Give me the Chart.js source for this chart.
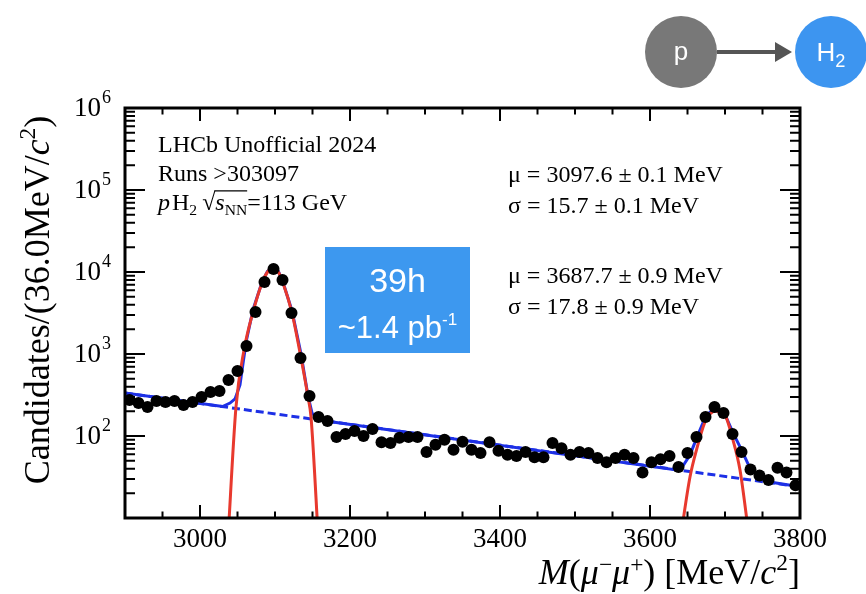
<!DOCTYPE html>
<html><head><meta charset="utf-8">
<script src="https://cdn.jsdelivr.net/npm/chart.js@4"></script>
<style>html,body{margin:0;padding:0;background:#fff;}canvas{display:block}</style>
</head><body>
<canvas id="c" width="866" height="594"></canvas>
<script>
// ---- data ----
const binMass = [2906,2918,2930,2942,2954,2966,2978,2990,3002,3014,3026,3038,3050,3062,3074,3086,3098,3110,3122,3134,3146,3158,3170,3182,3194,3206,3218,3230,3242,3254,3266,3278,3290,3302,3314,3326,3338,3350,3362,3374,3386,3398,3410,3422,3434,3446,3458,3470,3482,3494,3506,3518,3530,3542,3554,3566,3578,3590,3602,3614,3626,3638,3650,3662,3674,3686,3698,3710,3722,3734,3746,3758,3770,3782,3794];
const candidates = [275,252,226,267,260,267,239,260,299,344,354,482,621,1253,3250,7550,10900,7980,3160,893,308,171,152,97,106,115,100,122,84,82,95,97,97,64,78,90,68,85,68,62,84,66,59,57,64,55,55,82,71,59,64,62,54,48,54,59,54,36,48,52,57,42,62,97,171,226,191,106,64,39,33,29,41,36,25];

const jpsiFitMass = [3037,3048,3058.7,3070.7,3082.7,3090,3097.3,3104.5,3110.7,3122.7,3134.7,3144,3148,3158];
const jpsiFitVals = [5,226,1119,3250,7340,10000,11200,10000,7340,3160,893,299,171,5];
const psi2sFitMass = [3641,3653.3,3662.7,3673.3,3680,3686.7,3693,3700,3710.7,3720,3732];
const psi2sFitVals = [6,31.6,71.5,148,185,202,196,180,89,38.5,6];
const totalFitMass = [2900,3030,3040,3046.7,3053.3,3058,3062,3070.7,3082.7,3090,3097.3,3104.5,3110.7,3122.7,3134.7,3144,3149.3,3156,3177,3640,3653.3,3662.7,3673.3,3680,3686.7,3693,3700,3710.7,3722.7,3733.3,3746.7,3764,3800];
const totalFitVals = [334,229,252,283,419,845,1483,3470,7540,10200,11200,10200,7500,3350,1000,308,191,166,148,38,58.7,97,166,196,205,199,183,109,66,40.7,30.8,27.1,24];
const bkgMass = [2900,3800];
const bkgVals = [334,24];

const xTickLabels = [3000,3200,3400,3600,3800];
const yTickExponents = [2,3,4,5,6];

// ---- drawing helpers ----
const SERIF = '"Liberation Serif","Times New Roman",serif';
const SANS = '"Liberation Sans",Arial,sans-serif';
function fontFor(p, size, fam){
  const s = (p.sup||p.sub) ? size*(p.scale||0.65) : size;
  return (p.it?'italic ':'') + s.toFixed(1) + 'px ' + fam;
}
function richWidth(ctx, parts, size, fam){
  let w=0;
  for(const p of parts){ctx.font=fontFor(p,size,fam); w+=ctx.measureText(p.t).width+(p.dx||0);}
  return w;
}
function drawRich(ctx, x, y, parts, size, fam, align){
  ctx.save();
  ctx.textAlign='left';
  const w = richWidth(ctx, parts, size, fam);
  let cx = align==='right'? x-w : align==='center'? x-w/2 : x;
  let overStart=null;
  for(const p of parts){
    ctx.font=fontFor(p,size,fam);
    const dy = p.sup ? -size*(p.raise||0.38) : p.sub ? size*0.22 : 0;
    if(p.overStart) overStart=cx;
    ctx.fillText(p.t, cx, y+dy);
    const pw=ctx.measureText(p.t).width;
    cx += pw + (p.dx||0);
    if(p.overEnd && overStart!==null){
      ctx.lineWidth=1.3; ctx.strokeStyle=ctx.fillStyle;
      ctx.beginPath(); ctx.moveTo(overStart-1, y-size*0.80); ctx.lineTo(cx, y-size*0.80); ctx.stroke();
    }
  }
  ctx.restore();
}

const framePlugin = {
  id:'rootFrame',
  afterDraw(chart){
    const ctx=chart.ctx, a=chart.chartArea, xs=chart.scales.x, ys=chart.scales.y;
    ctx.save();
    ctx.fillStyle='#000'; ctx.strokeStyle='#000';
    // ticks
    ctx.lineWidth=2;
    ctx.beginPath();
    for(let m=2900;m<=3800;m+=50){
      const px=xs.getPixelForValue(m);
      const L=(m%200===0)?13:6.5;
      ctx.moveTo(px,a.bottom); ctx.lineTo(px,a.bottom-L);
      ctx.moveTo(px,a.top); ctx.lineTo(px,a.top+L);
    }
    for(let e=1;e<=5;e++){
      for(let d=1;d<=10;d++){
        const v=d*Math.pow(10,e);
        const py=ys.getPixelForValue(v);
        const L=(d===1||d===10)?20:10;
        ctx.moveTo(a.left,py); ctx.lineTo(a.left+L,py);
        ctx.moveTo(a.right,py); ctx.lineTo(a.right-L,py);
      }
    }
    ctx.stroke();
    // frame
    ctx.lineWidth=3;
    ctx.strokeRect(a.left,a.top,a.right-a.left,a.bottom-a.top);
    // x tick labels
    ctx.font='27px '+SERIF; ctx.textAlign='center'; ctx.textBaseline='alphabetic';
    for(const t of xTickLabels){ ctx.fillText(String(t), xs.getPixelForValue(t), 547); }
    // y tick labels
    for(const e of yTickExponents){
      const py=ys.getPixelForValue(Math.pow(10,e));
      ctx.font='27px '+SERIF; ctx.textAlign='right';
      ctx.fillText('10', 101, py+8);
      ctx.font='18px '+SERIF; ctx.textAlign='left';
      ctx.fillText(String(e), 102, py-5);
    }
    // axis titles
    ctx.textAlign='left';
    drawRich(ctx, 800, 584, [{t:'M',it:true},{t:'('},{t:'μ',it:true},{t:'−',sup:true,raise:0.33},{t:'μ',it:true},{t:'+',sup:true,raise:0.33},{t:') [MeV/'},{t:'c',it:true},{t:'2',sup:true},{t:']'}], 36, SERIF, 'right');
    ctx.save(); ctx.translate(49,300); ctx.rotate(-Math.PI/2);
    drawRich(ctx, 0, 0, [{t:'Candidates/(36.0MeV/'},{t:'c',it:true},{t:'2',sup:true},{t:')'}], 36, SERIF, 'center');
    ctx.restore();
    // annotations
    ctx.font='24px '+SERIF; ctx.textAlign='left';
    ctx.fillText('LHCb Unofficial 2024', 158, 152);
    ctx.fillText('Runs >303097', 158, 181);
    drawRich(ctx, 158, 210, [{t:'p',it:true,dx:2},{t:'H'},{t:'2',sub:true,dx:5},{t:'√'},{t:'s',it:true,overStart:true},{t:'NN',sub:true,overEnd:true},{t:'=113 GeV'}], 24, SERIF, 'left');
    ctx.font='24px '+SERIF;
    ctx.fillText('μ = 3097.6 ± 0.1 MeV', 508, 182);
    ctx.fillText('σ = 15.7 ± 0.1 MeV', 508, 213);
    ctx.fillText('μ = 3687.7 ± 0.9 MeV', 508, 283);
    ctx.fillText('σ = 17.8 ± 0.9 MeV', 508, 314);
    // luminosity box
    ctx.fillStyle='#3d98ef';
    ctx.fillRect(325,247,145,106);
    ctx.fillStyle='#fff'; ctx.textAlign='center';
    ctx.font='34px '+SANS;
    ctx.fillText('39h', 397.5, 292);
    drawRich(ctx, 397.5, 338, [{t:'~1.4 pb'},{t:'-1',sup:true,scale:0.55,raise:0.42}], 31, SANS, 'center');
    // p -> H2 icon
    ctx.fillStyle='#787878';
    ctx.beginPath(); ctx.arc(681,52,36,0,Math.PI*2); ctx.fill();
    ctx.fillStyle='#3d95f0';
    ctx.beginPath(); ctx.arc(831,52,36,0,Math.PI*2); ctx.fill();
    ctx.strokeStyle='#555'; ctx.lineWidth=4;
    ctx.beginPath(); ctx.moveTo(717,52); ctx.lineTo(778,52); ctx.stroke();
    ctx.fillStyle='#555';
    ctx.beginPath(); ctx.moveTo(792,52); ctx.lineTo(775,42); ctx.lineTo(775,62); ctx.closePath(); ctx.fill();
    ctx.fillStyle='#fff'; ctx.textAlign='center';
    ctx.font='26px '+SANS;
    ctx.fillText('p', 681, 60);
    drawRich(ctx, 831, 61, [{t:'H'},{t:'2',sub:true,scale:0.7}], 26, SANS, 'center');
    ctx.restore();
  }
};

const RED='#e8392e', BLUE='#1d30e6';
const pts=(xs,ys)=>xs.map((x,i)=>({x:x,y:ys[i]}));
new Chart(document.getElementById('c').getContext('2d'),{
  type:'scatter',
  data:{datasets:[
    {label:'Data', data:pts(binMass,candidates), pointRadius:6, pointBackgroundColor:'#000', pointBorderColor:'#000', pointBorderWidth:0, showLine:false},
    {label:'J/psi', data:pts(jpsiFitMass,jpsiFitVals), showLine:true, borderColor:RED, borderWidth:3, pointRadius:0, cubicInterpolationMode:'monotone'},
    {label:'psi(2S)', data:pts(psi2sFitMass,psi2sFitVals), showLine:true, borderColor:RED, borderWidth:3, pointRadius:0, cubicInterpolationMode:'monotone'},
    {label:'Total', data:pts(totalFitMass,totalFitVals), showLine:true, borderColor:BLUE, borderWidth:3, pointRadius:0, tension:0},
    {label:'Background', data:pts(bkgMass,bkgVals), showLine:true, borderColor:BLUE, borderWidth:3, borderDash:[8,4], pointRadius:0, tension:0}
  ]},
  options:{
    responsive:false, animation:false, devicePixelRatio:1, events:[],
    layout:{padding:{left:125,right:66,top:108,bottom:76}},
    plugins:{legend:{display:false},tooltip:{enabled:false}},
    scales:{
      x:{type:'linear',min:2900,max:3800,display:false},
      y:{type:'logarithmic',min:10,max:1e6,display:false}
    }
  },
  plugins:[framePlugin]
});
</script>
</body></html>
